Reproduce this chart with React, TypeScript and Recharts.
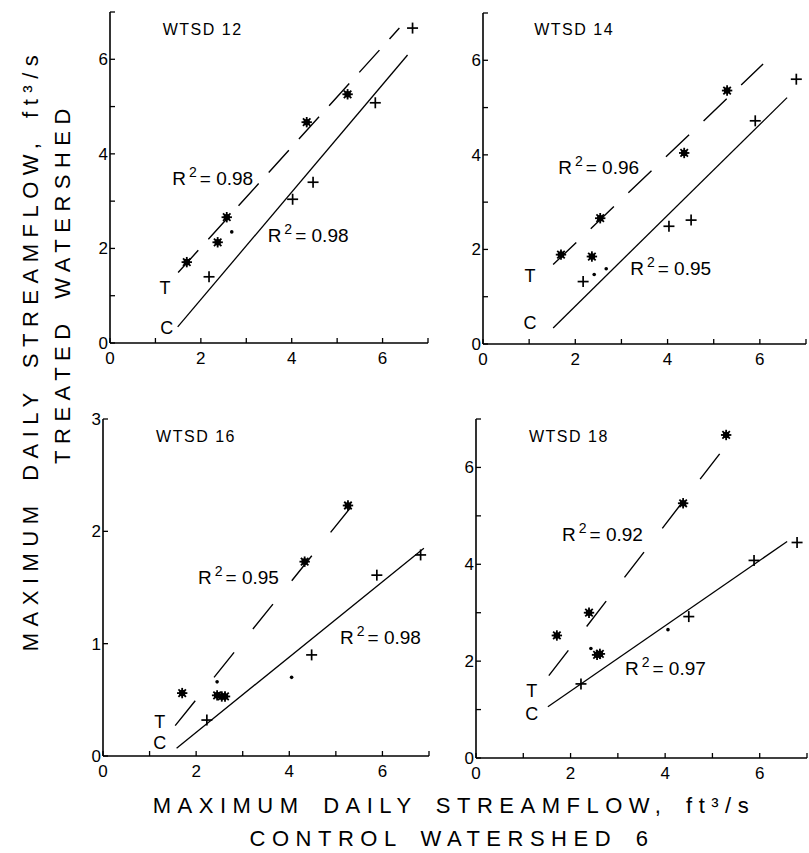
import React from "react";
import { ScatterChart, Scatter, XAxis, YAxis, ReferenceLine, ReferenceDot } from "recharts";

const FONT = '"Liberation Sans", Arial, Helvetica, sans-serif';

// values: [control ft3/s, treated ft3/s]
const w12Treated = [[1.69, 1.71], [2.37, 2.13], [2.57, 2.66], [4.33, 4.67], [5.23, 5.26]];
const w12Control = [[2.18, 1.4], [4.02, 3.04], [4.47, 3.4], [5.84, 5.08], [6.66, 6.66]];
const w12Dots = [[2.68, 2.35]];
const w12TreatedFit = [[1.5, 1.49], [6.37, 6.66]];
const w12ControlFit = [[1.49, 0.34], [6.55, 6.09]];
const w12R2 = ["0.98", "0.98"];

const w14Treated = [[1.69, 1.89], [2.36, 1.85], [2.54, 2.66], [4.36, 4.04], [5.29, 5.36]];
const w14Control = [[2.17, 1.32], [4.03, 2.49], [4.51, 2.62], [5.9, 4.72], [6.79, 5.6]];
const w14Dots = [[2.41, 1.47], [2.67, 1.59]];
const w14TreatedFit = [[1.52, 1.68], [6.07, 5.92]];
const w14ControlFit = [[1.52, 0.34], [6.59, 5.21]];
const w14R2 = ["0.96", "0.95"];

const w16Treated = [[1.7, 0.56], [2.45, 0.54], [2.55, 0.53], [2.62, 0.53], [4.33, 1.73], [5.26, 2.23]];
const w16Control = [[2.23, 0.32], [4.48, 0.9], [5.88, 1.61], [6.82, 1.79]];
const w16Dots = [[2.45, 0.66], [4.05, 0.7]];
const w16TreatedFit = [[1.55, 0.27], [5.41, 2.26]];
const w16ControlFit = [[1.58, 0.07], [6.89, 1.85]];
const w16R2 = ["0.95", "0.98"];

const w18Treated = [[1.71, 2.53], [2.39, 3.0], [2.56, 2.13], [2.62, 2.15], [4.38, 5.26], [5.29, 6.67]];
const w18Control = [[2.22, 1.53], [4.5, 2.92], [5.88, 4.08], [6.79, 4.45]];
const w18Dots = [[2.43, 2.26], [4.06, 2.65]];
const w18TreatedFit = [[1.54, 1.7], [5.31, 6.48]];
const w18ControlFit = [[1.52, 1.06], [6.58, 4.47]];
const w18R2 = ["0.92", "0.97"];

const xTicks = [0, 1, 2, 3, 4, 5, 6, 7];
const yTicksBig = [0, 1, 2, 3, 4, 5, 6, 7];
const yTicksSmall = [0, 1, 2, 3];

const toPts = (a: number[][]) => a.map(([x, y]) => ({ x, y }));

const Asterisk = (p: any) => {
  const { cx, cy } = p;
  const r = 5.2;
  const d = r * 0.72;
  return (
    <g stroke="#000" strokeWidth={1.8}>
      <circle cx={cx} cy={cy} r={2.4} fill="#000" />
      <line x1={cx - r} y1={cy} x2={cx + r} y2={cy} />
      <line x1={cx} y1={cy - r} x2={cx} y2={cy + r} />
      <line x1={cx - d} y1={cy - d} x2={cx + d} y2={cy + d} />
      <line x1={cx - d} y1={cy + d} x2={cx + d} y2={cy - d} />
    </g>
  );
};

const Plus = (p: any) => {
  const { cx, cy } = p;
  return (
    <g stroke="#000" strokeWidth={1.7}>
      <line x1={cx - 5.5} y1={cy} x2={cx + 5.5} y2={cy} />
      <line x1={cx} y1={cy - 5.5} x2={cx} y2={cy + 5.5} />
    </g>
  );
};

const Dot = (p: any) => <circle cx={p.cx} cy={p.cy} r={1.8} fill="#000" />;

const R2Text = ({ cx, cy, value }: any) => (
  <text x={cx} y={cy + 7} fontSize={19} fontFamily={FONT} fill="#000">
    <tspan>R</tspan>
    <tspan dy={-8} fontSize={14} dx={3}>2</tspan>
    <tspan dy={8} dx={3}>= {value}</tspan>
  </text>
);

const TagText = ({ cx, cy, value, size = 16, spacing = 0, anchor = "middle" }: any) => (
  <text
    x={cx}
    y={cy}
    fontSize={size}
    fontFamily={FONT}
    letterSpacing={spacing}
    textAnchor={anchor}
    dominantBaseline="central"
    fill="#000"
  >
    {value}
  </text>
);

const panels = [
  {
    title: "WTSD 12", left: 76, plotTop: 12, w: 318, h: 331, mr: 6, yMax: 7, yTicks: yTicksBig,
    treated: w12Treated, control: w12Control, dots: w12Dots,
    tFit: w12TreatedFit, cFit: w12ControlFit, r2: w12R2, dash: "30 15",
    titleAt: [1.16, 6.62], tAt: [1.21, 1.16], cAt: [1.25, 0.32], r2tAt: [1.37, 3.49], r2cAt: [3.47, 2.28],
  },
  {
    title: "WTSD 14", left: 449, plotTop: 13, w: 323, h: 331, mr: 3, yMax: 7, yTicks: yTicksBig,
    treated: w14Treated, control: w14Control, dots: w14Dots,
    tFit: w14TreatedFit, cFit: w14ControlFit, r2: w14R2, dash: "32 20",
    titleAt: [1.11, 6.66], tAt: [1.02, 1.43], cAt: [1.02, 0.45], r2tAt: [1.63, 3.74], r2cAt: [3.19, 1.6],
  },
  {
    title: "WTSD 16", left: 69, plotTop: 419, w: 326, h: 337, mr: 6, yMax: 3, yTicks: yTicksSmall,
    treated: w16Treated, control: w16Control, dots: w16Dots,
    tFit: w16TreatedFit, cFit: w16ControlFit, r2: w16R2, dash: "32 30",
    titleAt: [1.14, 2.84], tAt: [1.22, 0.3], cAt: [1.22, 0.12], r2tAt: [2.04, 1.59], r2cAt: [5.09, 1.06],
  },
  {
    title: "WTSD 18", left: 442, plotTop: 419, w: 331, h: 339, mr: 2, yMax: 7, yTicks: yTicksBig,
    treated: w18Treated, control: w18Control, dots: w18Dots,
    tFit: w18TreatedFit, cFit: w18ControlFit, r2: w18R2, dash: "32 30",
    titleAt: [1.12, 6.63], tAt: [1.18, 1.39], cAt: [1.18, 0.91], r2tAt: [1.82, 4.62], r2cAt: [3.15, 1.86],
  },
];

const Y_W = 34;
const X_H = 30;
const M_TOP = 11;

function Panel({ p }: { p: any }) {
  const fmtX = (v: number) => (v % 2 === 0 ? String(v) : "");
  const fmtY = (v: number) => (p.yMax === 7 ? (v % 2 === 0 ? String(v) : "") : String(v));
  const tick = { fontSize: 17, fill: "#000", fontFamily: FONT };
  return (
    <div style={{ position: "absolute", left: p.left, top: p.plotTop - M_TOP }}>
      <ScatterChart
        width={Y_W + p.w + p.mr}
        height={M_TOP + p.h + X_H}
        margin={{ top: M_TOP, right: p.mr, left: 0, bottom: 0 }}
      >
        <XAxis
          type="number"
          dataKey="x"
          domain={[0, 7]}
          ticks={xTicks}
          interval={0}
          tickFormatter={fmtX}
          height={X_H}
          tickSize={-5}
          tickMargin={14}
          tick={tick}
          axisLine={{ stroke: "#000", strokeWidth: 1.6 }}
          tickLine={{ stroke: "#000", strokeWidth: 1.3 }}
        />
        <YAxis
          type="number"
          dataKey="y"
          domain={[0, p.yMax]}
          ticks={p.yTicks}
          interval={0}
          tickFormatter={fmtY}
          width={Y_W}
          tickSize={-5}
          tickMargin={7}
          tick={tick}
          axisLine={{ stroke: "#000", strokeWidth: 1.6 }}
          tickLine={{ stroke: "#000", strokeWidth: 1.3 }}
        />
        <ReferenceLine
          segment={toPts(p.tFit)}
          stroke="#000"
          strokeWidth={1.4}
          strokeDasharray={p.dash}
          ifOverflow="visible"
        />
        <ReferenceLine segment={toPts(p.cFit)} stroke="#000" strokeWidth={1.3} ifOverflow="visible" />
        <Scatter data={toPts(p.treated)} shape={Asterisk} isAnimationActive={false} />
        <Scatter data={toPts(p.control)} shape={Plus} isAnimationActive={false} />
        <Scatter data={toPts(p.dots)} shape={Dot} isAnimationActive={false} />
        <ReferenceDot
          x={p.titleAt[0]} y={p.titleAt[1]} r={0} ifOverflow="visible"
          shape={(s: any) => <TagText cx={s.cx} cy={s.cy} value={p.title} size={16} spacing={1.5} anchor="start" />}
        />
        <ReferenceDot
          x={p.tAt[0]} y={p.tAt[1]} r={0} ifOverflow="visible"
          shape={(s: any) => <TagText cx={s.cx} cy={s.cy} value="T" size={18} />}
        />
        <ReferenceDot
          x={p.cAt[0]} y={p.cAt[1]} r={0} ifOverflow="visible"
          shape={(s: any) => <TagText cx={s.cx} cy={s.cy} value="C" size={18} />}
        />
        <ReferenceDot
          x={p.r2tAt[0]} y={p.r2tAt[1]} r={0} ifOverflow="visible"
          shape={(s: any) => <R2Text cx={s.cx} cy={s.cy} value={p.r2[0]} />}
        />
        <ReferenceDot
          x={p.r2cAt[0]} y={p.r2cAt[1]} r={0} ifOverflow="visible"
          shape={(s: any) => <R2Text cx={s.cx} cy={s.cy} value={p.r2[1]} />}
        />
      </ScatterChart>
    </div>
  );
}

export default function App() {
  const labelStyle = { fontSize: 22, fontFamily: FONT, fill: "#000", letterSpacing: 6.5, wordSpacing: 6 };
  return (
    <div style={{ position: "absolute", left: 0, top: 0, width: 809, height: 853, background: "#fff" }}>
      {panels.map((p) => (
        <Panel key={p.title} p={p} />
      ))}
      <svg width={809} height={853} style={{ position: "absolute", left: 0, top: 0, pointerEvents: "none" }}>
        <text x={454} y={813} textAnchor="middle" {...labelStyle}>
          MAXIMUM DAILY STREAMFLOW, ft³/s
        </text>
        <text x={452} y={846} textAnchor="middle" {...labelStyle}>
          CONTROL WATERSHED 6
        </text>
        <text x={38} y={350} textAnchor="middle" transform="rotate(-90 38 350)" {...labelStyle}>
          MAXIMUM DAILY STREAMFLOW, ft³/s
        </text>
        <text x={70} y={283} textAnchor="middle" transform="rotate(-90 70 283)" {...labelStyle}>
          TREATED WATERSHED
        </text>
      </svg>
    </div>
  );
}
